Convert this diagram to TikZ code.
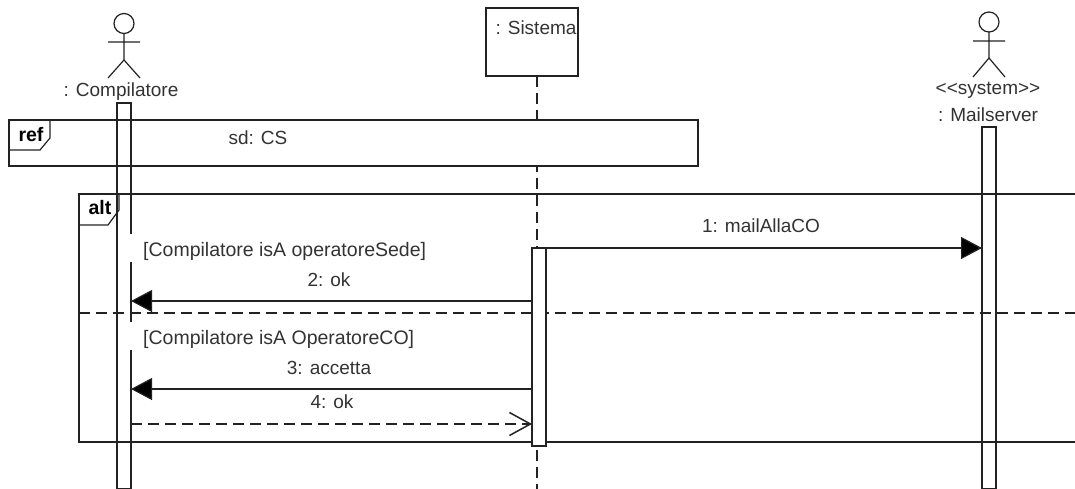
\documentclass[tikz,border=0pt]{standalone}
\usepackage{fontspec}
\setmainfont{Liberation Sans}
\usetikzlibrary{arrows.meta}
\definecolor{ink}{HTML}{222222}
\definecolor{txt}{HTML}{333333}
\tikzset{
  x=1pt,y=-1pt,
  ln/.style={draw=ink,line width=1.2pt},
  lab/.style={text=txt,font=\fontsize{19}{21}\selectfont,inner sep=0pt,anchor=base},
  guard/.style={text=txt,font=\fontsize{19.5}{21}\selectfont,fill=white,inner sep=0pt,anchor=west,minimum height=28pt},
  bar/.style={ln,fill=white,inner sep=0pt,minimum width=14pt},
  frame/.style={ln,fill=white},
  life/.style={ln,dash pattern=on 11pt off 6pt},
  sync/.style={ln,-{Triangle[length=21pt,width=22pt,fill=black]}},
  reply/.style={ln,dash pattern=on 11pt off 6pt,-{Straight Barb[length=21pt,width=23pt,line width=1.5pt]}}
}
\begin{document}
\begin{tikzpicture}
\useasboundingbox (0,0) rectangle (1075,489);
\fill[white] (0,0) rectangle (1075,489);
% Sistema
\node[ln,fill=white,inner sep=0pt,minimum width=92pt,minimum height=68pt] (sis) at (532,42) {};
\node[lab] (sislab) at (536,35) {: Sistema};
\coordinate (sisend) at (537,489);
\draw[life] (537,76) -- (sisend);
% alt frame (open to the right)
\coordinate (altTL) at (79,194);
\coordinate (altTR) at (1075,194);
\coordinate (altBL) at (79,442);
\coordinate (altBR) at (1075,442);
\draw[ln] (altTR) -- (altTL) -- (altBL) -- (altBR);
\draw[ln] (79,225) -- (108,225) -- (119,210) -- (119,194);
\node[lab,font=\fontsize{19.5}{21}\selectfont\bfseries,text=black] (altlab) at (100,214) {alt};
\coordinate (altdl) at (79,313);
\coordinate (altdr) at (1075,313);
\draw[ln,dash pattern=on 11pt off 6pt] (altdl) -- (altdr);
% ref frame
\node[frame,inner sep=0pt,minimum width=689pt,minimum height=46pt] (ref) at (353.5,143) {};
\draw[ln] (9,150) -- (40,150) -- (50,138) -- (50,120);
\node[lab,font=\fontsize{19.5}{21}\selectfont\bfseries,text=black] (reflab) at (31,142) {ref};
\node[lab] (sd) at (258,145) {sd: CS};
% Compilatore actor
\draw[ln] (124,23.5) circle (10);
\draw[ln] (124,33.5) -- (124,60) (108,42) -- (140,42) (108,78) -- (124,60) -- (140,78);
\node[lab] (complab) at (121,97) {: Compilatore};
\node[ln,inner sep=0pt,minimum width=14pt,minimum height=386pt] (compbar) at (124,296) {};
% Mailserver actor
\draw[ln] (989,22) circle (10);
\draw[ln] (989,32) -- (989,58) (973,41) -- (1005,41) (973,77) -- (989,58) -- (1005,77);
\node[lab] (st) at (988,95) {<{}<system>{}>};
\node[lab] (mail) at (988,122) {: Mailserver};
\node[ln,inner sep=0pt,minimum width=14pt,minimum height=362pt] (mailbar) at (989,308) {};
% Sistema activation
\node[bar,minimum height=198pt] (sisbar) at (539,347) {};
% guards
\node[guard] (g1) at (128,248) {\hspace{15pt}\raisebox{-8pt}[0pt][0pt]{[Compilatore isA operatoreSede]}};
\node[guard] (g2) at (128,336) {\hspace{15pt}\raisebox{-8pt}[0pt][0pt]{[Compilatore isA OperatoreCO]}};
% messages
\coordinate (a1) at (546,248); \coordinate (b1) at (982,248);
\coordinate (a2) at (532,301); \coordinate (b2) at (131,301);
\coordinate (a3) at (532,389); \coordinate (b3) at (131,389);
\coordinate (a4) at (131,424); \coordinate (b4) at (532,424);
\draw[sync] (a1) -- (b1);
\draw[sync] (a2) -- (b2);
\draw[sync] (a3) -- (b3);
\draw[reply] (a4) -- (b4);
\node[lab] (m1) at (761,232) {1: mailAllaCO};
\node[lab] (m2) at (329,286) {2: ok};
\node[lab] (m3) at (329,374) {3: accetta};
\node[lab] (m4) at (332,408) {4: ok};
\end{tikzpicture}
\end{document}
